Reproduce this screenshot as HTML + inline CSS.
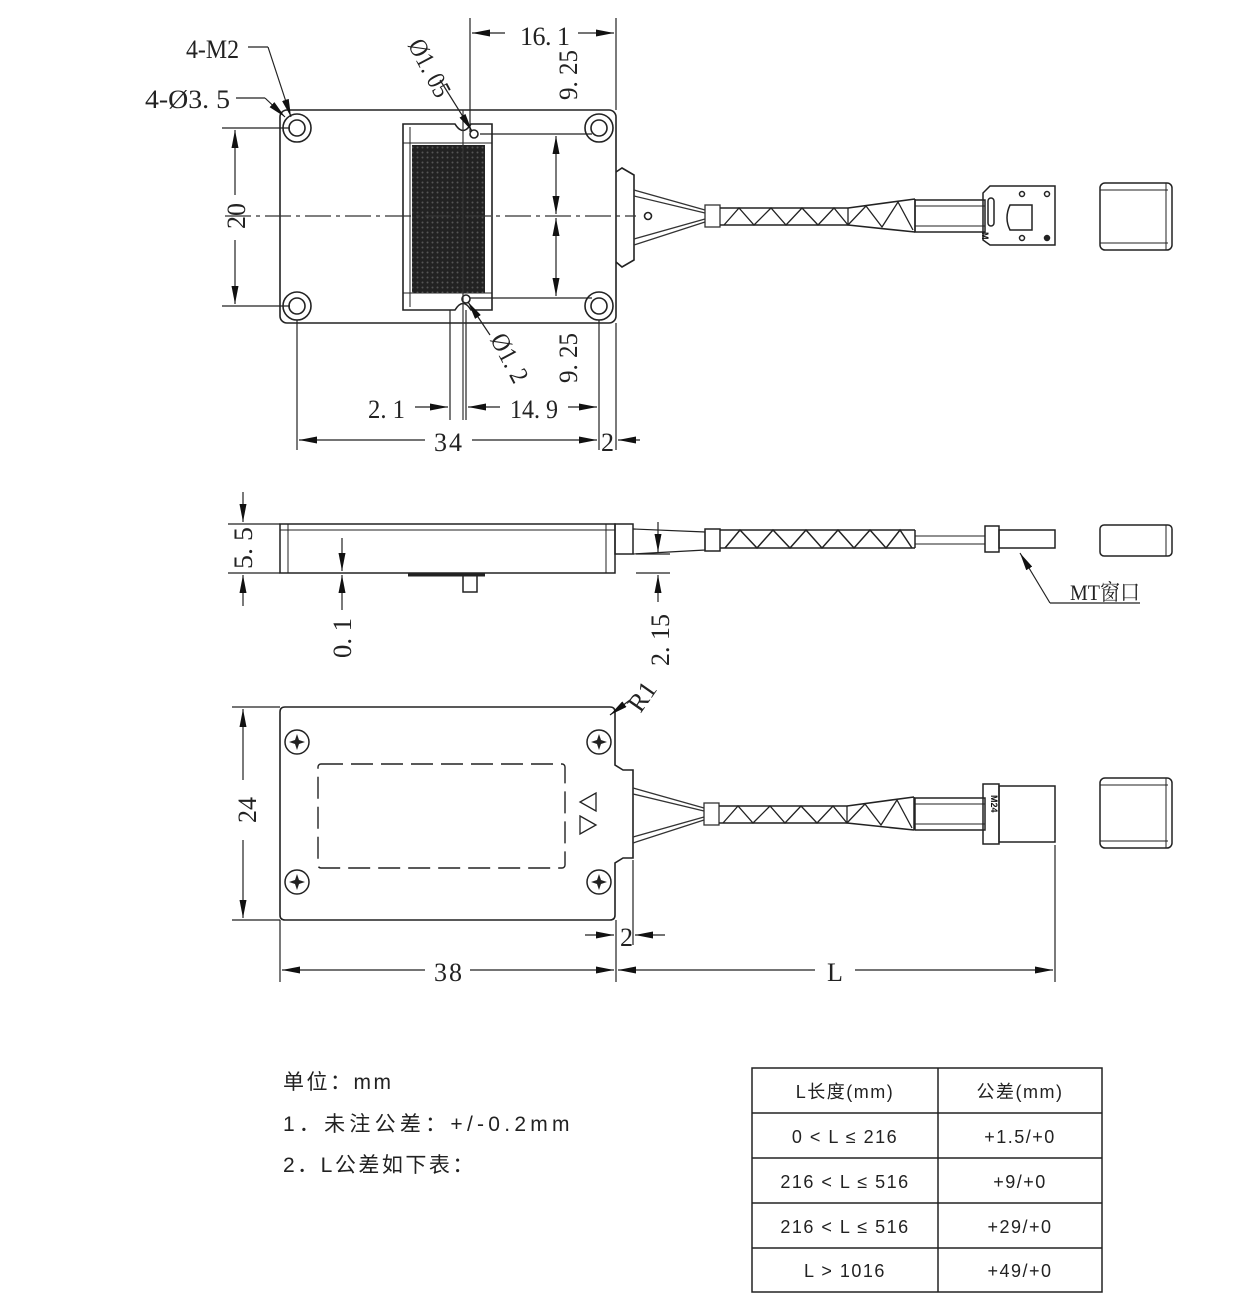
<!DOCTYPE html>
<html><head><meta charset="utf-8"><style>
html,body{margin:0;padding:0;background:#fff;}
svg{display:block;}
.d{font-family:"Liberation Sans Narrow","Liberation Serif","Noto Serif CJK SC",serif;font-size:26px;fill:#222;}
.n{font-family:"Liberation Sans","Noto Sans CJK SC",sans-serif;font-size:21px;fill:#222;letter-spacing:2.5px;}
.t{font-family:"Liberation Sans","Noto Sans CJK SC",sans-serif;font-size:18px;fill:#222;letter-spacing:1.5px;}
</style></head><body>
<svg width="1259" height="1300" viewBox="0 0 1259 1300" xmlns="http://www.w3.org/2000/svg">
<defs>
<marker id="a" viewBox="0 0 10 6" refX="10" refY="3" markerWidth="18" markerHeight="7" orient="auto-start-reverse" markerUnits="userSpaceOnUse" preserveAspectRatio="none"><path d="M0,0 L10,3 L0,6 z" fill="#111"/></marker>
<pattern id="dots" width="5" height="5" patternUnits="userSpaceOnUse"><rect width="5" height="5" fill="#222"/><circle cx="2.5" cy="2.5" r="1" fill="#555"/></pattern>
<g id="cable">
 <path d="M0,-26 L71,-6 M0,29 L71,6 M0,-20 L71,-3 M0,23 L71,3" stroke="#333" stroke-width="1.3" fill="none"/>
 <rect x="71" y="-11" width="15" height="22" fill="#fff" stroke="#333" stroke-width="1.3"/>
 <path d="M86,-8 L214,-8 M86,9 L214,9 M214,-8 L281,-17 M214,9 L281,16" stroke="#222" stroke-width="1.6" fill="none"/>
 <path d="M90,9 L105,-8 L120,9 L137,-8 L152,9 L168,-8 L184,9 L200,-8 L214,9 L232,-10 L248,11 L264,-14 L279,14" stroke="#222" stroke-width="1.3" fill="none"/>
 <line x1="214" y1="-8" x2="214" y2="9" stroke="#222" stroke-width="1.3"/>
 <line x1="281" y1="-17" x2="281" y2="16" stroke="#222" stroke-width="1.5"/>
</g>
</defs>

<g stroke="#222" fill="none" stroke-width="1.6">
<rect x="280" y="110" width="336" height="213" rx="7"/>
<path d="M616,172 L622,168 L634,175 L634,260 L622,267 L616,262"/>
<circle cx="297" cy="128" r="14"/><circle cx="297" cy="128" r="8"/>
<circle cx="599" cy="128" r="14"/><circle cx="599" cy="128" r="8"/>
<circle cx="297" cy="306" r="14"/><circle cx="297" cy="306" r="8"/>
<circle cx="599" cy="306" r="14"/><circle cx="599" cy="306" r="8"/>
<path d="M403,124 L455,124 Q463,137 471,124 L492,124 L492,310 L471,310 Q463,297 455,310 L403,310 Z"/>
<line x1="410" y1="127" x2="410" y2="307" stroke-width="1"/>
<line x1="403" y1="143" x2="492" y2="143" stroke-width="1"/>
<line x1="403" y1="293" x2="492" y2="293" stroke-width="1"/>
<rect x="412" y="145" width="73" height="148" fill="url(#dots)" stroke="none"/>
<circle cx="474" cy="134" r="4"/><circle cx="466" cy="299" r="4"/>
<circle cx="648" cy="216" r="3.5"/>
</g>
<line x1="225" y1="216" x2="636" y2="216" stroke="#333" stroke-width="1.2" stroke-dasharray="26,5,4,5"/>
<line x1="463" y1="110" x2="463" y2="420" stroke="#333" stroke-width="1.2"/>
<use href="#cable" x="634" y="216"/>
<g stroke="#222" fill="none" stroke-width="1.5">
<rect x="915" y="200" width="70" height="32"/><line x1="915" y1="206" x2="985" y2="206" stroke-width="1"/><line x1="915" y1="226" x2="985" y2="226" stroke-width="1"/>
<path d="M983,193 L990,186 L1055,186 L1055,245 L990,245 L983,240 Z"/>
<rect x="988" y="198" width="6" height="28" rx="3"/>
<path d="M1010,205 L1032,205 L1032,230 L1010,230 Q1004,218 1010,205 Z"/>
<circle cx="1022" cy="194" r="2.5"/><circle cx="1047" cy="194" r="2.5"/><circle cx="1022" cy="238" r="2.5"/><circle cx="1047" cy="238" r="2.5" fill="#222"/>
<rect x="1100" y="183" width="72" height="67" rx="5"/>
<line x1="1100" y1="190" x2="1168" y2="190" stroke-width="1"/><line x1="1100" y1="243" x2="1168" y2="243" stroke-width="1"/><line x1="1166" y1="183" x2="1166" y2="250" stroke-width="1"/>
</g>
<text x="985" y="243" font-family="Liberation Sans" font-size="9" font-weight="bold" fill="#111" transform="rotate(90 989 236)">M</text>

<g stroke="#222" stroke-width="1.2" fill="none">
<line x1="470" y1="18" x2="470" y2="132"/><line x1="616" y1="18" x2="616" y2="110"/>
<line x1="472" y1="33" x2="505" y2="33" marker-start="url(#a)"/><line x1="578" y1="33" x2="614" y2="33" marker-end="url(#a)"/>
<line x1="480" y1="134" x2="592" y2="134"/><line x1="470" y1="298" x2="592" y2="298"/>
<line x1="556" y1="136" x2="556" y2="214" marker-start="url(#a)" marker-end="url(#a)"/>
<line x1="556" y1="218" x2="556" y2="296" marker-start="url(#a)" marker-end="url(#a)"/>
<line x1="222" y1="128" x2="290" y2="128"/><line x1="222" y1="306" x2="290" y2="306"/>
<line x1="235" y1="130" x2="235" y2="195" marker-start="url(#a)"/><line x1="235" y1="240" x2="235" y2="304" marker-end="url(#a)"/>
<line x1="297" y1="320" x2="297" y2="450"/><line x1="599" y1="320" x2="599" y2="450"/><line x1="616" y1="323" x2="616" y2="450"/>
<line x1="450" y1="310" x2="450" y2="420"/><line x1="466" y1="310" x2="466" y2="420"/>
<line x1="299" y1="440" x2="425" y2="440" marker-start="url(#a)"/><line x1="472" y1="440" x2="597" y2="440" marker-end="url(#a)"/>
<line x1="640" y1="440" x2="618" y2="440" marker-end="url(#a)"/>
<line x1="415" y1="407" x2="448" y2="407" marker-end="url(#a)"/><line x1="500" y1="407" x2="468" y2="407" marker-end="url(#a)"/>
<line x1="568" y1="407" x2="597" y2="407" marker-end="url(#a)"/>
<line x1="248" y1="47" x2="268" y2="47"/><line x1="268" y1="47" x2="291" y2="117" marker-end="url(#a)"/>
<line x1="236" y1="98" x2="265" y2="98"/><line x1="265" y1="98" x2="285" y2="117" marker-end="url(#a)"/>
<line x1="440" y1="80" x2="472" y2="131" marker-end="url(#a)"/>
<line x1="490" y1="335" x2="468" y2="302" marker-end="url(#a)"/>
</g>
<text class="d" x="520" y="45" textLength="50" lengthAdjust="spacing">16. 1</text>
<text class="d" x="568" y="84" transform="rotate(-90 568 75)" text-anchor="middle" textLength="50" lengthAdjust="spacingAndGlyphs">9. 25</text>
<text class="d" x="568" y="367" transform="rotate(-90 568 358)" text-anchor="middle" textLength="50" lengthAdjust="spacingAndGlyphs">9. 25</text>
<text class="d" x="236" y="225" transform="rotate(-90 236 216)" text-anchor="middle">20</text>
<text class="d" x="434" y="451" textLength="28">34</text>
<text class="d" x="601" y="451">2</text>
<text class="d" x="368" y="418" textLength="37" lengthAdjust="spacingAndGlyphs">2. 1</text>
<text class="d" x="510" y="418" textLength="48" lengthAdjust="spacingAndGlyphs">14. 9</text>
<text class="d" x="186" y="58" textLength="53" lengthAdjust="spacingAndGlyphs">4-M2</text>
<text class="d" x="145" y="108" textLength="85" lengthAdjust="spacingAndGlyphs">4-Ø3. 5</text>
<text class="d" x="422" y="72" transform="rotate(62 422 72)" text-anchor="middle" textLength="62" lengthAdjust="spacingAndGlyphs">Ø1. 05</text>
<text class="d" x="502" y="362" transform="rotate(62 502 362)" text-anchor="middle" textLength="52" lengthAdjust="spacingAndGlyphs">Ø1. 2</text>

<g stroke="#222" fill="none" stroke-width="1.5">
<rect x="280" y="524" width="335" height="49"/>
<line x1="280" y1="530" x2="615" y2="530" stroke-width="1"/>
<line x1="288" y1="524" x2="288" y2="573" stroke-width="1"/>
<line x1="606" y1="524" x2="606" y2="573" stroke-width="1"/>
<rect x="615" y="524" width="18" height="30"/>
<path d="M633,529 L705,532 L705,550 L633,554" stroke-width="1.2"/>
<rect x="705" y="529" width="15" height="22"/>
<path d="M720,530 L915,530 M720,548 L915,548" stroke-width="1.5"/>
<path d="M725,548 L740,530 L757,548 L773,530 L790,548 L806,530 L822,548 L838,530 L854,548 L870,530 L886,548 L900,530 L912,548"/>
<line x1="915" y1="530" x2="915" y2="548"/>
<path d="M915,536 L985,536 M915,544 L985,544" stroke-width="1"/>
<rect x="985" y="526" width="14" height="26"/>
<rect x="999" y="530" width="56" height="18"/>
<rect x="1100" y="525" width="72" height="31" rx="4"/>
<line x1="1166" y1="525" x2="1166" y2="556" stroke-width="1"/>
<path d="M408,575 L485,575" stroke-width="3"/>
<rect x="463" y="575" width="14" height="17"/>
</g>
<g stroke="#222" stroke-width="1.2" fill="none">
<line x1="228" y1="524" x2="280" y2="524"/><line x1="228" y1="573" x2="280" y2="573"/>
<line x1="243" y1="492" x2="243" y2="522" marker-end="url(#a)"/><line x1="243" y1="606" x2="243" y2="575" marker-end="url(#a)"/>
<line x1="342" y1="538" x2="342" y2="571" marker-end="url(#a)"/><line x1="342" y1="610" x2="342" y2="575" marker-end="url(#a)"/>
<line x1="636" y1="554" x2="670" y2="554"/><line x1="636" y1="573" x2="670" y2="573"/>
<line x1="658" y1="522" x2="658" y2="552" marker-end="url(#a)"/><line x1="658" y1="602" x2="658" y2="575" marker-end="url(#a)"/>
<line x1="1050" y1="603" x2="1020" y2="553" marker-end="url(#a)"/><line x1="1050" y1="603" x2="1140" y2="603"/>
</g>
<text class="d" x="243" y="557" transform="rotate(-90 243 548)" text-anchor="middle" textLength="42" lengthAdjust="spacingAndGlyphs">5. 5</text>
<text class="d" x="342" y="647" transform="rotate(-90 342 638)" text-anchor="middle" textLength="40" lengthAdjust="spacingAndGlyphs">0. 1</text>
<text class="d" x="660" y="649" transform="rotate(-90 660 640)" text-anchor="middle" textLength="52" lengthAdjust="spacingAndGlyphs">2. 15</text>
<text class="d" x="1070" y="600" style="font-size:22px" textLength="70" lengthAdjust="spacingAndGlyphs">MT窗口</text>

<g stroke="#222" fill="none" stroke-width="1.6">
<path d="M285,707 L610,707 Q615,707 615,712 L615,765 L623,770 L633,770 L633,858 L623,858 L615,863 L615,915 Q615,920 610,920 L285,920 Q280,920 280,915 L280,712 Q280,707 285,707 Z"/>
<rect x="318" y="764" width="247" height="104" rx="3" stroke-dasharray="22,8" stroke-width="1.4"/>
<path d="M596,793 L596,811 L580,802 Z M580,816 L596,825 L580,834 Z" stroke-width="1.3"/>
</g>
<g stroke="#222" stroke-width="1.5" fill="none">
<circle cx="297" cy="742" r="12"/><circle cx="599" cy="742" r="12"/><circle cx="297" cy="882" r="12"/><circle cx="599" cy="882" r="12"/>
</g>
<g fill="#222">
<path d="M297,734 L299,740 L305,742 L299,744 L297,750 L295,744 L289,742 L295,740Z"/>
<path d="M599,734 L601,740 L607,742 L601,744 L599,750 L597,744 L591,742 L597,740Z"/>
<path d="M297,874 L299,880 L305,882 L299,884 L297,890 L295,884 L289,882 L295,880Z"/>
<path d="M599,874 L601,880 L607,882 L601,884 L599,890 L597,884 L591,882 L597,880Z"/>
</g>
<use href="#cable" x="633" y="814"/>
<g stroke="#222" fill="none" stroke-width="1.5">
<rect x="915" y="798" width="70" height="32"/><line x1="915" y1="804" x2="985" y2="804" stroke-width="1"/><line x1="915" y1="824" x2="985" y2="824" stroke-width="1"/>
<rect x="983" y="784" width="16" height="60"/>
<rect x="999" y="786" width="56" height="56"/>
<rect x="1100" y="778" width="72" height="70" rx="5"/>
<line x1="1100" y1="785" x2="1168" y2="785" stroke-width="1"/><line x1="1100" y1="841" x2="1168" y2="841" stroke-width="1"/><line x1="1166" y1="778" x2="1166" y2="848" stroke-width="1"/>
</g>
<text x="986" y="800" font-family="Liberation Sans" font-size="9" font-weight="bold" fill="#111" transform="rotate(90 991 800)">M24</text>
<g stroke="#222" stroke-width="1.2" fill="none">
<line x1="232" y1="707" x2="280" y2="707"/><line x1="232" y1="920" x2="280" y2="920"/>
<line x1="243" y1="780" x2="243" y2="709" marker-end="url(#a)"/><line x1="243" y1="840" x2="243" y2="918" marker-end="url(#a)"/>
<line x1="280" y1="920" x2="280" y2="982"/><line x1="616" y1="920" x2="616" y2="982"/><line x1="633" y1="860" x2="633" y2="945"/>
<line x1="1055" y1="845" x2="1055" y2="982"/>
<line x1="282" y1="970" x2="425" y2="970" marker-start="url(#a)"/><line x1="470" y1="970" x2="614" y2="970" marker-end="url(#a)"/>
<line x1="618" y1="970" x2="815" y2="970" marker-start="url(#a)"/><line x1="855" y1="970" x2="1053" y2="970" marker-end="url(#a)"/>
<line x1="585" y1="935" x2="614" y2="935" marker-end="url(#a)"/><line x1="665" y1="935" x2="635" y2="935" marker-end="url(#a)"/>
<line x1="630" y1="700" x2="610" y2="715" marker-end="url(#a)"/>
</g>
<text class="d" x="248" y="818" transform="rotate(-90 248 810)" text-anchor="middle">24</text>
<text class="d" x="434" y="981" textLength="28">38</text>
<text class="d" x="827" y="981">L</text>
<text class="d" x="620" y="946">2</text>
<text class="d" x="628" y="710" transform="rotate(-55 638 700)">R1</text>

<text class="n" x="283" y="1089">单位：mm</text>
<text class="n" x="283" y="1131" textLength="289" lengthAdjust="spacing">1．未注公差：+/-0.2mm</text>
<text class="n" x="283" y="1172">2．L公差如下表：</text>

<g stroke="#222" stroke-width="1.5" fill="none">
<rect x="752" y="1068" width="350" height="224"/>
<line x1="938" y1="1068" x2="938" y2="1292"/>
<line x1="752" y1="1113" x2="1102" y2="1113"/>
<line x1="752" y1="1158" x2="1102" y2="1158"/>
<line x1="752" y1="1203" x2="1102" y2="1203"/>
<line x1="752" y1="1248" x2="1102" y2="1248"/>
</g>
<g class="t" text-anchor="middle">
<text x="845" y="1098">L长度(mm)</text><text x="1020" y="1098">公差(mm)</text>
<text x="845" y="1143">0 &lt; L ≤ 216</text><text x="1020" y="1143">+1.5/+0</text>
<text x="845" y="1188">216 &lt; L ≤ 516</text><text x="1020" y="1188">+9/+0</text>
<text x="845" y="1233">216 &lt; L ≤ 516</text><text x="1020" y="1233">+29/+0</text>
<text x="845" y="1277">L &gt; 1016</text><text x="1020" y="1277">+49/+0</text>
</g>
</svg>
</body></html>
